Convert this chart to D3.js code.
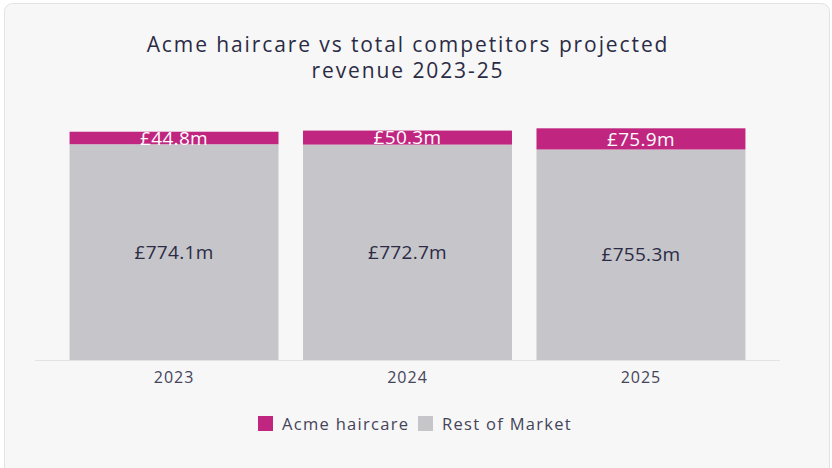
<!DOCTYPE html>
<html>
<head>
<meta charset="utf-8">
<script src="https://cdn.jsdelivr.net/npm/d3@7"></script>
<style>
  html, body { margin: 0; padding: 0; background: #ffffff; }
  svg { display: block; font-family: "Open Sans", Lato, sans-serif; }
</style>
</head>
<body>
<svg id="chart" width="832" height="468"></svg>
<script>
// Projected revenue, £m
const years = ["2023", "2024", "2025"];
const acme = [44.8, 50.3, 75.9];
const restOfMarket = [774.1, 772.7, 755.3];
const seriesNames = ["Acme haircare", "Rest of Market"];
const titleLines = ["Acme haircare vs total competitors projected", "revenue 2023-25"];

const colors = { "Acme haircare": "#c0267f", "Rest of Market": "#c6c5ca" };

const svg = d3.select("#chart");

// card background
svg.append("rect")
  .attr("x", 4.5).attr("y", 3.5)
  .attr("width", 825).attr("height", 476)
  .attr("rx", 8)
  .attr("fill", "#f7f7f7")
  .attr("stroke", "#e2e2e2");

// title, one text element per line
svg.append("g")
  .selectAll("text")
  .data(titleLines)
  .join("text")
  .attr("x", 408)
  .attr("y", (d, i) => 52 + i * 26)
  .attr("text-anchor", "middle")
  .attr("fill", "#2b2b45")
  .attr("font-size", 21)
  .attr("letter-spacing", 1.9)
  .text(d => d);

const rows = years.map((y, i) => ({ year: y, "Rest of Market": restOfMarket[i], "Acme haircare": acme[i] }));
const stack = d3.stack().keys(["Rest of Market", "Acme haircare"]);
const stacked = stack(rows);

const x = d3.scaleBand().domain(years).range([35, 780]).paddingInner(0.105).paddingOuter(0.148);
const yMax = d3.max(rows, d => d["Rest of Market"] + d["Acme haircare"]);
const y = d3.scaleLinear().domain([0, yMax]).range([360, 128.3]);

// baseline
svg.append("line")
  .attr("x1", 35).attr("x2", 780)
  .attr("y1", 360.5).attr("y2", 360.5)
  .attr("stroke", "#e3e3e3");

const layers = svg.append("g").selectAll("g")
  .data(stacked).join("g")
  .attr("fill", d => colors[d.key]);

layers.selectAll("rect")
  .data(d => d.map(v => ({ key: d.key, v })))
  .join("rect")
  .attr("x", d => x(d.v.data.year))
  .attr("width", x.bandwidth())
  .attr("y", d => y(d.v[1]))
  .attr("height", d => y(d.v[0]) - y(d.v[1]));

// value labels
layers.selectAll("text")
  .data(d => d.map(v => ({ key: d.key, v })))
  .join("text")
  .attr("x", d => x(d.v.data.year) + x.bandwidth() / 2)
  .attr("y", d => (y(d.v[0]) + y(d.v[1])) / 2)
  .attr("dy", "0.35em")
  .attr("text-anchor", "middle")
  .attr("font-size", 19)
  .attr("letter-spacing", 0.3)
  .attr("fill", d => d.key === "Acme haircare" ? "#ffffff" : "#2b2b45")
  .text(d => "£" + d3.format(".1f")(d.v[1] - d.v[0]) + "m");

// x axis
const xAxis = svg.append("g")
  .attr("transform", "translate(0,360)")
  .call(d3.axisBottom(x).tickSize(0).tickPadding(12));
xAxis.select(".domain").remove();
xAxis.selectAll("text")
  .attr("font-family", "'Open Sans', sans-serif")
  .attr("font-size", 16)
  .attr("letter-spacing", 1)
  .attr("fill", "#44445a");

// legend
const legendX = [258, 418];
const legend = svg.append("g");
seriesNames.forEach((name, i) => {
  const g = legend.append("g").attr("transform", `translate(${legendX[i]},416)`);
  g.append("rect").attr("width", 15).attr("height", 15).attr("fill", colors[name]);
  g.append("text").attr("x", 24).attr("y", 8).attr("dy", "0.35em")
    .attr("font-size", 16.5).attr("letter-spacing", 1.3)
    .attr("fill", "#44445a").text(name);
});
</script>
</body>
</html>
